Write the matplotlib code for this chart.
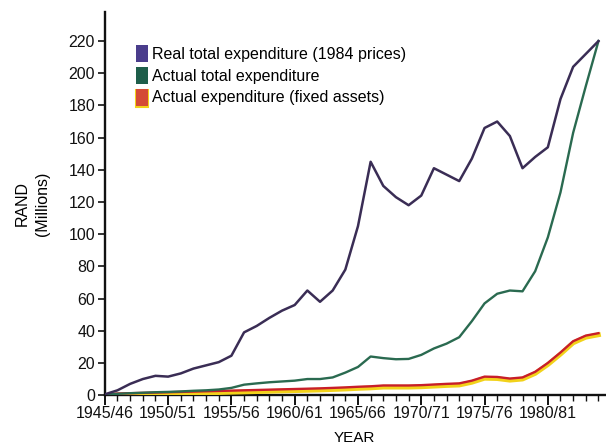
import matplotlib
matplotlib.use("Agg")
import matplotlib.pyplot as plt
import matplotlib.patheffects as pe
from matplotlib.patches import Patch
from matplotlib.ticker import MultipleLocator

plt.rcParams["font.family"] = ["Liberation Sans", "DejaVu Sans"]

# ---------------------------------------------------------------------------
# Data (R millions), financial years 1945/46 .. 1984/85
# ---------------------------------------------------------------------------
year_idx = list(range(40))
tick_pos = [0, 5, 10, 15, 20, 25, 30, 35]
tick_labels = ["1945/46", "1950/51", "1955/56", "1960/61",
               "1965/66", "1970/71", "1975/76", "1980/81"]

real_total = [0.5, 3, 7, 10, 12, 11.5, 13.5, 16.5, 18.5, 20.5,
              24.5, 39, 43, 48, 52.5, 56, 65, 58, 65, 78,
              105, 145, 130, 123, 118, 124, 141, 137, 133, 147,
              166, 170, 161, 141, 148, 154, 184, 204, 212, 220]

actual_total = [0.3, 0.8, 1.2, 1.5, 1.8, 2, 2.3, 2.7, 3, 3.5,
                4.5, 6.5, 7.3, 8, 8.5, 9, 10, 10, 11, 14,
                17.5, 24, 23, 22.3, 22.5, 25, 29, 32, 36, 46,
                57, 63, 65, 64.5, 77, 98, 126, 163, 192, 220]

fixed_assets = [0.5, 1, 1.2, 1.4, 1.6, 1.8, 2, 2.2, 2.4, 2.6,
                2.8, 3, 3.2, 3.4, 3.6, 3.8, 4, 4.2, 4.5, 4.8,
                5.2, 5.5, 6, 6, 6, 6.2, 6.6, 7, 7.3, 9,
                11.5, 11.3, 10.3, 11, 14.5, 20, 26.5, 33.5, 37, 38.5]

labels = ["Real total expenditure (1984 prices)",
          "Actual total expenditure",
          "Actual expenditure (fixed assets)"]

purple_line = "#3a2d55"
green_line = "#2a6a50"
red_line = "#c81e2a"
yellow = "#f2d21a"

# ---------------------------------------------------------------------------
# Plot
# ---------------------------------------------------------------------------
fig = plt.figure(figsize=(6.06, 4.48), dpi=100)
ax = fig.add_axes([0.173, 0.118, 0.825, 0.855])

shadow = [pe.Stroke(linewidth=3.4, foreground=yellow, offset=(0, -1.2)), pe.Normal()]

ax.plot(year_idx, fixed_assets, color=red_line, linewidth=1.7, path_effects=shadow, zorder=3)
ax.plot(year_idx, actual_total, color=green_line, linewidth=1.7, zorder=4)
ax.plot(year_idx, real_total, color=purple_line, linewidth=1.8, zorder=5)

ax.set_xlim(0, 39.5)
ax.set_ylim(0, 238)
ax.set_yticks(range(0, 221, 20))
ax.set_xticks(tick_pos)
ax.set_xticklabels(tick_labels)
ax.xaxis.set_minor_locator(MultipleLocator(1))

for s in ["top", "right"]:
    ax.spines[s].set_visible(False)
for s in ["left", "bottom"]:
    ax.spines[s].set_linewidth(1.7)
    ax.spines[s].set_color("#111111")

ax.tick_params(axis="y", length=5, width=1.2, labelsize=11.5, pad=2, colors="#111111")
ax.tick_params(axis="x", which="major", length=7, width=1.4, labelsize=11.5, pad=1, colors="#111111")
ax.tick_params(axis="x", which="minor", length=4, width=1.0, colors="#111111")

ax.set_xlabel("YEAR", fontsize=11, labelpad=7)
ax.set_ylabel("RAND\n(Millions)", fontsize=11.5, labelpad=13, linespacing=1.45)

handles = [
    Patch(facecolor="#4a3d8c", edgecolor="none"),
    Patch(facecolor="#1e5e4a", edgecolor="none"),
    Patch(facecolor="#d44a36", edgecolor="none",
          path_effects=[pe.Stroke(linewidth=1.5, foreground=yellow, offset=(0, -1.0)), pe.Normal()]),
]
ax.legend(handles, labels, loc="upper left", bbox_to_anchor=(0.05, 0.93),
          frameon=False, fontsize=11.5, handlelength=0.75, handleheight=1.25,
          handletextpad=0.25, labelspacing=0.3, borderaxespad=0)

fig.savefig("out.png", dpi=100)
